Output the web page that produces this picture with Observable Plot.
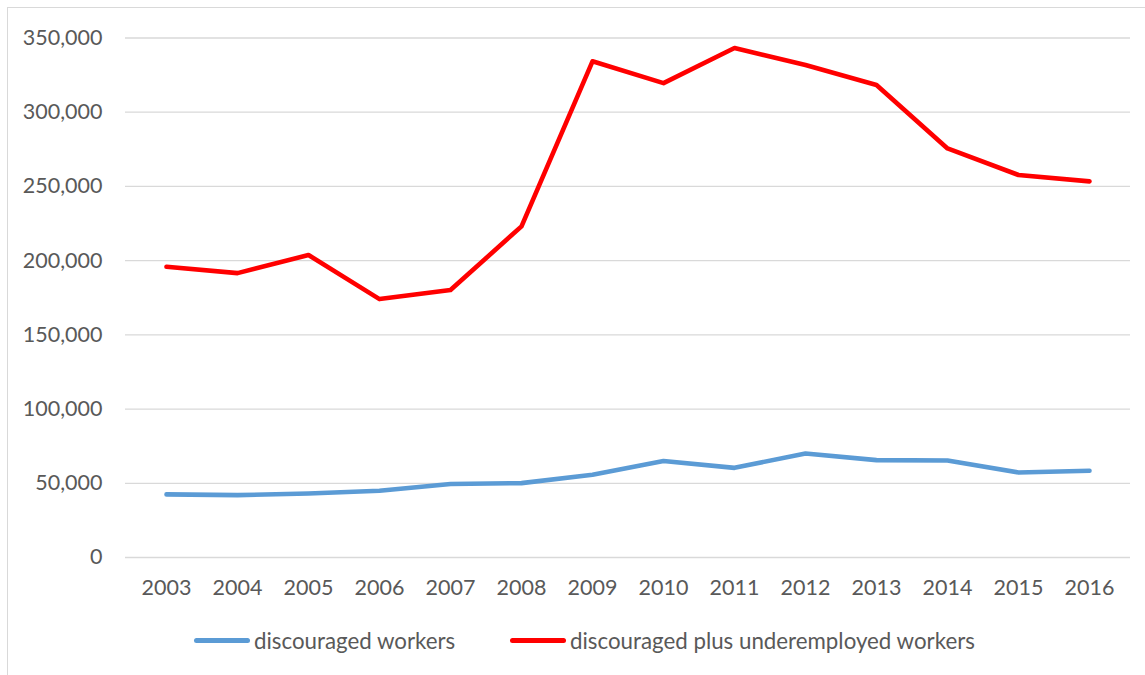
<!DOCTYPE html>
<html>
<head>
<meta charset="utf-8">
<script src="https://cdn.jsdelivr.net/npm/d3@7"></script>
<script src="https://cdn.jsdelivr.net/npm/@observablehq/plot@0.6"></script>
<style>
  html, body { margin: 0; padding: 0; background: #fff; }
  body { width: 1145px; height: 675px; overflow: hidden; position: relative; font-family: Lato, "Open Sans", sans-serif; }
  #frame { position: absolute; left: 7px; top: 7px; right: -2px; bottom: -2px; border-left: 1.5px solid #d9d9d9; border-top: 1.5px solid #d9d9d9; }
  #chart { position: absolute; left: 0; top: 0; }
  #legend { position: absolute; left: 0; top: 615px; width: 1145px; height: 60px; }
  .item { position: absolute; top: 12px; display: flex; align-items: center; font-size: 22.3px; color: #595959; white-space: nowrap; }
  .swatch { width: 56px; height: 5px; border-radius: 3px; margin-right: 4px; }
</style>
</head>
<body>
<div id="frame"></div>
<div id="chart"></div>
<div id="legend"></div>
<script>
const years = ["2003","2004","2005","2006","2007","2008","2009","2010","2011","2012","2013","2014","2015","2016"];
const discouraged = [42500, 42000, 43100, 45000, 49500, 50100, 55700, 65000, 60400, 70100, 65600, 65400, 57300, 58400];
const plusUnderemployed = [195900, 191600, 203800, 174100, 180200, 223100, 334300, 319600, 343300, 331800, 318300, 275600, 257700, 253400];
const yTicks = [0, 50000, 100000, 150000, 200000, 250000, 300000, 350000];
const seriesNames = ["discouraged workers", "discouraged plus underemployed workers"];
const seriesColors = ["#5B9BD5", "#FF0000"];

const rowsA = years.map((y, i) => ({year: y, value: discouraged[i]}));
const rowsB = years.map((y, i) => ({year: y, value: plusUnderemployed[i]}));

const chart = Plot.plot({
  width: 1145,
  height: 615,
  marginLeft: 125,
  marginRight: 15,
  marginTop: 37.5,
  marginBottom: 58,
  style: { fontFamily: "Lato, 'Open Sans', sans-serif", fontSize: "21.5px", color: "#595959", background: "transparent", overflow: "visible" },
  x: { type: "point", domain: years, padding: 0.5, label: null },
  y: { domain: [0, 350000], label: null },
  marks: [
    Plot.ruleY(yTicks, { stroke: "#d9d9d9", strokeWidth: 1.3 }),
    Plot.axisX({ tickSize: 0, tickPadding: 22, label: null, fill: "#595959" }),
    Plot.axisY({ ticks: yTicks, tickSize: 0, tickPadding: 23, tickFormat: d3.format(","), label: null, fill: "#595959" }),
    Plot.lineY(rowsA, { x: "year", y: "value", stroke: seriesColors[0], strokeWidth: 4.6, strokeLinejoin: "round", strokeLinecap: "round" }),
    Plot.lineY(rowsB, { x: "year", y: "value", stroke: seriesColors[1], strokeWidth: 4.6, strokeLinejoin: "round", strokeLinecap: "round" })
  ]
});
document.getElementById("chart").appendChild(chart);

const legend = document.getElementById("legend");
const lefts = [194, 510];
seriesNames.forEach((name, i) => {
  const item = document.createElement("div");
  item.className = "item";
  item.style.left = lefts[i] + "px";
  const sw = document.createElement("div");
  sw.className = "swatch";
  sw.style.background = seriesColors[i];
  const tx = document.createElement("span");
  tx.textContent = name;
  item.appendChild(sw);
  item.appendChild(tx);
  legend.appendChild(item);
});
</script>
</body>
</html>
